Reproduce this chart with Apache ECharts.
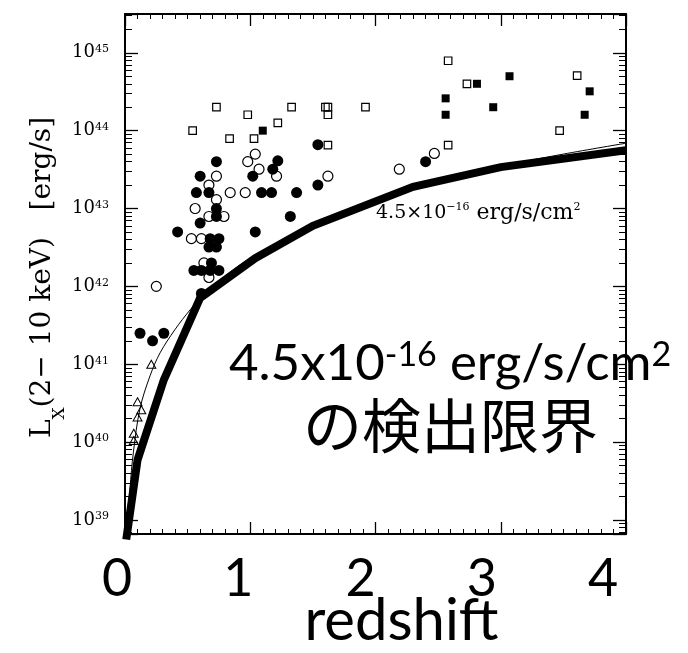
<!DOCTYPE html>
<html>
<head>
<meta charset="utf-8">
<script src="https://cdn.jsdelivr.net/npm/echarts@6/dist/echarts.min.js"></script>
<style>
  html, body { margin: 0; padding: 0; background: #fff; }
  #chart { width: 688px; height: 653px; }
</style>
</head>
<body>
<div id="chart"></div>
<script>
// Hard X-ray luminosity versus redshift, [redshift, L_X (erg/s)]
const filledCircles = [
  [0.73, 4.0e43], [1.18, 3.2e43], [1.22, 4.1e43], [0.60, 2.6e43], [1.02, 2.6e43],
  [0.57, 1.6e43], [0.67, 1.6e43], [1.09, 1.6e43], [1.17, 1.6e43], [1.37, 1.6e43],
  [1.54, 2.0e43], [1.54, 6.6e43], [0.73, 1.0e43], [0.73, 7.9e42], [1.32, 7.9e42],
  [0.60, 6.5e42], [0.42, 5.0e42], [1.04, 5.0e42], [0.68, 4.1e42], [0.75, 4.1e42],
  [0.67, 3.2e42], [0.73, 3.2e42], [0.69, 2.0e42], [0.55, 1.6e42], [0.61, 1.6e42],
  [0.68, 1.6e42], [0.75, 1.6e42], [0.61, 8.1e41], [0.12, 2.5e41], [0.22, 2.0e41],
  [0.31, 2.5e41], [2.40, 4.0e43]
];
const openCircles = [
  [1.04, 5.0e43], [0.98, 4.0e43], [1.07, 3.2e43], [1.21, 2.6e43], [0.73, 2.6e43],
  [0.67, 2.0e43], [0.84, 1.6e43], [0.96, 1.6e43], [0.73, 1.3e43], [0.56, 1.0e43],
  [0.67, 7.9e42], [0.79, 7.9e42], [0.53, 4.1e42], [0.61, 4.1e42], [0.63, 2.0e42],
  [0.67, 1.3e42], [0.25, 1.0e42], [1.62, 2.6e43], [2.19, 3.2e43], [2.47, 5.1e43]
];
const openSquares = [
  [0.54, 1.0e44], [0.835, 7.9e43], [1.03, 7.9e43], [1.22, 1.26e44], [1.62, 6.5e43],
  [0.73, 2.0e44], [0.98, 1.6e44], [1.33, 2.0e44], [1.60, 2.0e44], [1.62, 2.0e44],
  [1.62, 1.6e44], [1.92, 2.0e44], [2.58, 6.5e43], [2.58, 7.9e44], [2.73, 4.0e44],
  [3.61, 5.1e44], [3.47, 1.0e44]
];
const filledSquares = [
  [1.10, 1.0e44], [2.81, 4.0e44], [3.07, 5.0e44], [2.56, 2.6e44], [2.94, 2.0e44],
  [2.56, 1.6e44], [3.71, 3.2e44], [3.67, 1.6e44]
];
const openTriangles = [
  [0.21, 1.0e41], [0.10, 3.3e40], [0.13, 2.6e40], [0.10, 2.1e40], [0.07, 1.3e40],
  [0.07, 1.05e40]
];
// Detection limit for 4.5e-16 erg/s/cm^2
const limitThick = [
  [0.01, 5.6e38], [0.10, 5.9e39], [0.31, 6.3e40], [0.60, 7.1e41], [1.04, 2.3e42],
  [1.5, 6.0e42], [2.3, 1.9e43], [3.0, 3.4e43], [4.0, 5.6e43]
];
const limitThin = [
  [0.02, 6.9e38], [0.04, 2.5e39], [0.067, 7.4e39], [0.12, 2.7e40], [0.2, 7.1e40],
  [0.28, 1.4e41], [0.4, 2.8e41], [0.52, 5.0e41], [0.6, 6.9e41], [0.8, 1.35e42],
  [1.0, 2.3e42], [1.5, 6.3e42], [2.0, 1.26e43], [2.5, 2.3e43], [3.0, 3.5e43],
  [3.5, 5.0e43], [4.0, 6.9e43]
];
const xTickLabels = ['0', '1', '2', '3', '4'];
const yTickExponents = [39, 40, 41, 42, 43, 44, 45];
const yRange = [6.6e38, 3.15e45];
const xRange = [0, 4];

// label nudges to the left (px), one per redshift tick
const xLabelNudge = [8, 12, 15, 19, 23];

const serif = 'DejaVu Serif';
const sans = 'Lato';

const chart = echarts.init(document.getElementById('chart'), null, { renderer: 'canvas' });

const xRich = {};
xTickLabels.forEach((t, i) => {
  xRich['n' + i] = { fontFamily: sans, fontSize: 52, color: '#000', padding: [0, xLabelNudge[i] * 2, 0, 0] };
});

const tickStyle = { color: '#000', width: 1.3 };
const frame = { show: true, onZero: false, lineStyle: { color: '#000', width: 2 } };

function xAxisCfg(pos) {
  return {
    type: 'value', min: xRange[0], max: xRange[1], interval: 1, position: pos,
    axisLine: frame,
    axisTick: { show: true, inside: true, length: 12, lineStyle: tickStyle },
    minorTick: { show: true, splitNumber: 10, length: 5, lineStyle: { color: '#000', width: 1 } },
    splitLine: { show: false }, minorSplitLine: { show: false },
    axisLabel: { show: false }
  };
}
function yAxisCfg(pos) {
  return {
    type: 'log', logBase: 10, min: yRange[0], max: yRange[1], position: pos,
    axisLine: frame,
    axisTick: { show: true, inside: true, length: 13, lineStyle: tickStyle },
    minorTick: { show: true, splitNumber: 9, length: 7, lineStyle: { color: '#000', width: 1 } },
    splitLine: { show: false }, minorSplitLine: { show: false },
    axisLabel: { show: false }
  };
}

const xBottom = xAxisCfg('bottom');
xBottom.axisLabel = {
  show: true, margin: 19,
  formatter: (v) => {
    const i = Math.round(v);
    return xTickLabels[i] !== undefined ? '{n' + i + '|' + xTickLabels[i] + '}' : '';
  },
  rich: xRich
};
xBottom.name = 'redshift';
xBottom.nameLocation = 'middle';
xBottom.nameGap = 58;
xBottom.nameMoveOverlap = false;
xBottom.nameTextStyle = { fontFamily: sans, fontSize: 58, color: '#000', padding: [0, 0, 0, 52] };

const yLeft = yAxisCfg('left');
yLeft.axisLabel = {
  show: true, margin: 16, showMinLabel: false, showMaxLabel: false,
  formatter: (v) => {
    const lg = Math.log10(v);
    const e = Math.round(lg);
    if (Math.abs(lg - e) > 1e-6 || yTickExponents.indexOf(e) < 0) return '';
    return '{m|10}{s|' + e + '}';
  },
  rich: {
    m: { fontFamily: serif, fontSize: 18, color: '#000' },
    s: { fontFamily: serif, fontSize: 11, color: '#000', verticalAlign: 'top' }
  }
};
yLeft.name = '{m|L}{x|X}{m|(2\u2212 10 keV)   [erg/s]}';
yLeft.nameLocation = 'middle';
yLeft.nameGap = 57;
yLeft.nameMoveOverlap = false;
yLeft.nameTextStyle = {
  fontFamily: serif, fontSize: 28, color: '#000', padding: [0, 7, 0, 0],
  rich: {
    m: { fontFamily: serif, fontSize: 28, color: '#000' },
    x: { fontFamily: serif, fontSize: 17, color: '#000', padding: [34, 0, 0, 0] }
  }
};

const hollow = 'rgba(255,255,255,0)';

chart.setOption({
  animation: false,
  backgroundColor: '#fff',
  grid: { left: 125, right: 62, top: 14, bottom: 119, containLabel: false, outerBoundsMode: 'none' },
  xAxis: [xBottom, xAxisCfg('top')],
  yAxis: [yLeft, yAxisCfg('right')],
  series: [
    {
      type: 'line', data: limitThin, smooth: 0.35, showSymbol: false, silent: true,
      lineStyle: { color: '#000', width: 1 }, z: 2
    },
    {
      type: 'line', data: limitThick, showSymbol: false, silent: true, clip: false,
      lineStyle: { color: '#000', width: 8, join: 'miter' }, z: 3
    },
    {
      type: 'scatter', data: openCircles, symbol: 'circle', symbolSize: 10, silent: true,
      itemStyle: { color: hollow, borderColor: '#000', borderWidth: 1.2, opacity: 1 }, z: 4
    },
    {
      type: 'scatter', data: filledCircles, symbol: 'circle', symbolSize: 11, silent: true,
      itemStyle: { color: '#000', opacity: 1 }, z: 5
    },
    {
      type: 'scatter', data: openSquares, symbol: 'rect', symbolSize: 7.5, silent: true,
      itemStyle: { color: hollow, borderColor: '#000', borderWidth: 1.2, opacity: 1 }, z: 4
    },
    {
      type: 'scatter', data: filledSquares, symbol: 'rect', symbolSize: 8, silent: true,
      itemStyle: { color: '#000', opacity: 1 }, z: 5
    },
    {
      type: 'scatter', data: openTriangles, symbol: 'triangle', symbolSize: [9, 8], silent: true,
      itemStyle: { color: hollow, borderColor: '#000', borderWidth: 1, opacity: 1 }, z: 4
    }
  ],
  graphic: [
    {
      type: 'text', left: 376, top: 202, silent: true,
      style: {
        text: '{a|4.5\u00d710}{s|\u221216}{b| erg/s/cm}{s|2}',
        rich: {
          a: { fontFamily: serif, fontSize: 19, fill: '#000' },
          b: { fontFamily: serif, fontSize: 22, fill: '#000' },
          s: { fontFamily: serif, fontSize: 11, fill: '#000', verticalAlign: 'top' }
        }
      }
    },
    {
      type: 'text', left: 229, top: 338, silent: true,
      style: {
        text: '{a|4.5x10}{s|-16}{a| erg/s/cm}{s|2}',
        rich: {
          a: { fontFamily: sans, fontSize: 51, fill: '#000' },
          s: { fontFamily: sans, fontSize: 34, fill: '#000', verticalAlign: 'top' }
        }
      }
    },
    {
      type: 'text', left: 303, top: 396, silent: true,
      style: { text: 'の検出限界', fontFamily: 'Noto Sans CJK JP', fontSize: 59, fill: '#000' }
    }
  ]
});
</script>
</body>
</html>
